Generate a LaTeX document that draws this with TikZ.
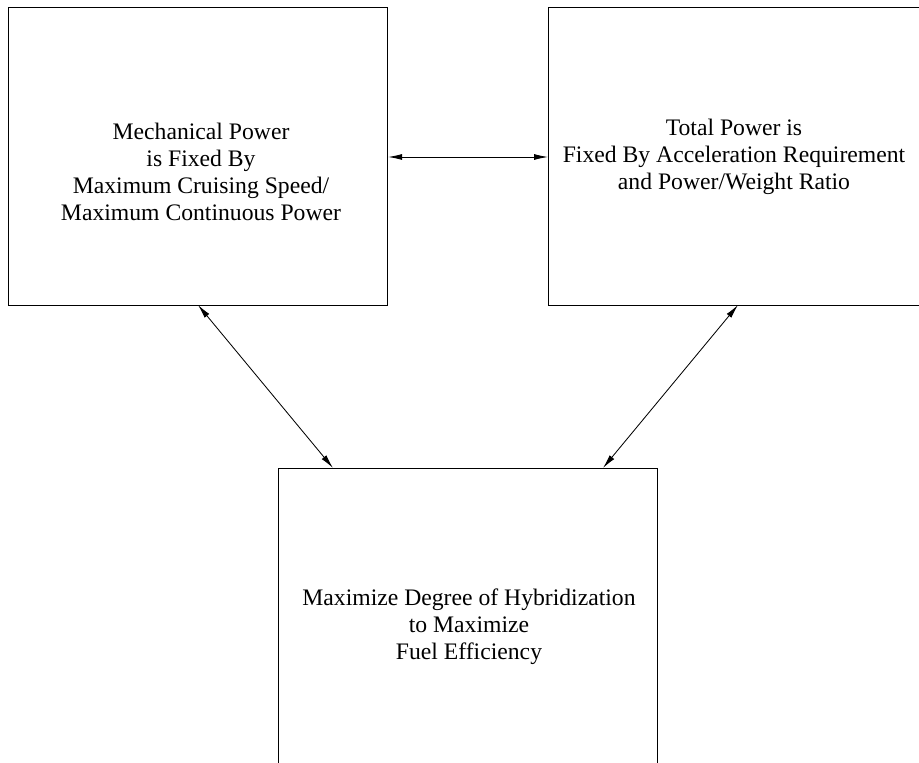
\documentclass[tikz,border=0pt]{standalone}
\usepackage{fontspec}
\setmainfont{Liberation Serif}
\usetikzlibrary{arrows.meta}

\begin{document}
\begin{tikzpicture}[x=0.6pt, y=-0.6pt, line width=0.7pt,
  box/.style={draw, rectangle, inner sep=0pt, minimum width=379*0.6pt, minimum height=298*0.6pt},
  txt/.style={align=center, font=\fontsize{14.2}{16.2}\selectfont},
  both/.style={{Latex[length=8.4pt,width=3.6pt]}-{Latex[length=8.4pt,width=3.6pt]}, line width=0.5pt}]
  \clip (0,0) rectangle (919,763);
  % boxes
  \node[box, anchor=north west] (mech) at (8,7) {};
  \node[box, anchor=north west, minimum width=400*0.6pt] (total) at (548,7) {};
  \node[box, anchor=north west, minimum height=330*0.6pt] (hyb) at (278,468) {};
  % texts
  \node[txt] (mechtxt) at (201,172) {Mechanical Power\\is Fixed By\\Maximum Cruising Speed/\\Maximum Continuous Power};
  \node[txt] (totaltxt) at (734,157) {Total Power is\\Fixed By Acceleration Requirement\\and Power/Weight Ratio};
  \node[txt] (hybtxt) at (469,627) {Maximize Degree of Hybridization\\to Maximize\\Fuel Efficiency};
  % arrow ends
  \coordinate (m1) at (mech.east |- 0,157);
  \coordinate (t1) at (total.west |- 0,157);
  \coordinate (m2) at (198,305);
  \coordinate (h2) at (333,468);
  \coordinate (t3) at (738,305);
  \coordinate (h3) at (603,468);
 \path[both]
  (m1) edge (t1)
  (m2) edge (h2)
  (t3) edge (h3);
\end{tikzpicture}
\end{document}
